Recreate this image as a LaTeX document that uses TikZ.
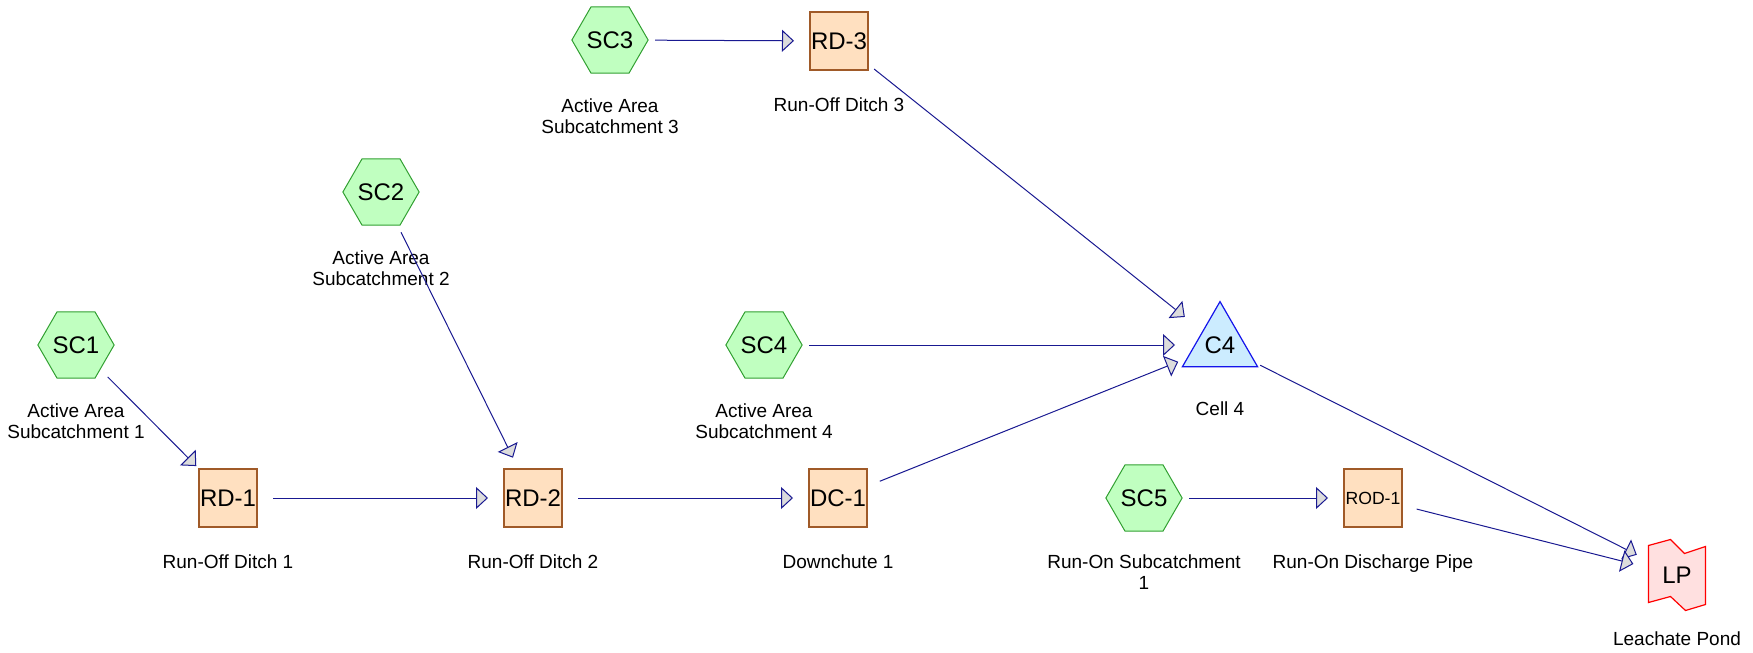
\documentclass[tikz,border=0pt]{standalone}
\usepackage{fontspec}
\setmainfont{Liberation Sans}
\usetikzlibrary{positioning, shapes.geometric, arrows.meta}

\definecolor{subfill}{RGB}{192,255,192}
\definecolor{subedge}{RGB}{50,160,50}
\definecolor{ditchfill}{RGB}{255,224,192}
\definecolor{ditchedge}{RGB}{160,90,40}
\definecolor{cellfill}{RGB}{204,236,255}
\definecolor{celledge}{RGB}{20,20,235}
\definecolor{pondfill}{RGB}{255,224,224}
\definecolor{pondedge}{RGB}{255,0,0}
\definecolor{flowblue}{RGB}{25,25,145}
\definecolor{tipgray}{RGB}{220,220,220}

\begin{document}
\begin{tikzpicture}[
  x=0.5pt, y=-0.5pt,
  catchment/.style={regular polygon, regular polygon sides=6, draw=subedge, fill=subfill, minimum size=38pt, inner sep=0pt, line width=0.5pt, font=\fontsize{12}{14}\selectfont},
  ditch/.style={draw=ditchedge, fill=ditchfill, minimum size=29pt, inner sep=0pt, line width=0.6pt, font=\fontsize{12}{14}\selectfont},
  cell/.style={regular polygon, regular polygon sides=3, draw=celledge, fill=cellfill, minimum size=42pt, inner sep=0pt, line width=0.6pt, font=\fontsize{12}{14}\selectfont},
  pond/.style={inner sep=0pt, font=\fontsize{12}{14}\selectfont},
  tag/.style={font=\fontsize{9.5}{10.8}\selectfont, align=center, inner sep=0pt},
  flow/.style={->, draw=flowblue, line width=0.5pt, shorten <=22.5pt, shorten >=22.5pt},
  >={Triangle[length=6pt, width=11pt, fill=tipgray]}
]
\useasboundingbox (0,0) rectangle (1753,653);

% Subcatchments
\node[catchment] (SC1) at (76,345) {SC1};
\node[catchment] (SC2) at (381,192) {SC2};
\node[catchment] (SC3) at (610,40) {SC3};
\node[catchment] (SC4) at (764,345) {SC4};
\node[catchment] (SC5) at (1144,498) {SC5};

% Ditches, chute and pipe
\node[ditch] (RD1) at (228,498) {RD-1};
\node[ditch] (RD2) at (533,498) {RD-2};
\node[ditch] (RD3) at (839,41) {RD-3};
\node[ditch] (DC1) at (838,498) {DC-1};
\node[ditch, font=\fontsize{8.8}{10}\selectfont] (ROD1) at (1373,498) {ROD-1};

% Cell and pond
\node[cell] (C4) at (1220,345) {C4};
\coordinate (lp) at (1677,575);
\draw[draw=pondedge, fill=pondfill, line width=0.6pt]
  ([shift={(-28.5,-29.5)}]lp) -- ([shift={(-6.5,-35.5)}]lp) -- ([shift={(7.5,-21.5)}]lp)
  -- ([shift={(28.5,-28.5)}]lp) -- ([shift={(28.5,29.5)}]lp) -- ([shift={(8.5,35.5)}]lp)
  -- ([shift={(-6.5,21.5)}]lp) -- ([shift={(-28.5,27.5)}]lp) -- cycle;
\node[pond] (LP) at (lp) {LP};

% Names
\node[tag, below=29pt of SC1.center] (SC1tag) {Active Area\\Subcatchment 1};
\node[tag, below=29pt of SC2.center] (SC2tag) {Active Area\\Subcatchment 2};
\node[tag, below=29pt of SC3.center] (SC3tag) {Active Area\\Subcatchment 3};
\node[tag, below=29pt of SC4.center] (SC4tag) {Active Area\\Subcatchment 4};
\node[tag, below=28pt of SC5.center] (SC5tag) {Run-On Subcatchment\\1};
\node[tag, below=28pt of RD1.center] (RD1tag) {Run-Off Ditch 1};
\node[tag, below=28pt of RD2.center] (RD2tag) {Run-Off Ditch 2};
\node[tag, below=28pt of RD3.center] (RD3tag) {Run-Off Ditch 3};
\node[tag, below=28pt of DC1.center] (DC1tag) {Downchute 1};
\node[tag, below=28pt of ROD1.center] (ROD1tag) {Run-On Discharge Pipe};
\node[tag, below=28pt of C4.center] (C4tag) {Cell 4};
\node[tag, below=28pt of LP.center] (LPtag) {Leachate Pond};

% Flows
\draw[flow] (SC1.center) -- (RD1.center);
\draw[flow] (RD1.center) -- (RD2.center);
\draw[flow] (SC2.center) -- (RD2.center);
\draw[flow] (RD2.center) -- (DC1.center);
\draw[flow] (SC3.center) -- (RD3.center);
\draw[flow] (RD3.center) -- (C4.center);
\draw[flow] (SC4.center) -- (C4.center);
\draw[flow] (DC1.center) -- (C4.center);
\draw[flow] (SC5.center) -- (ROD1.center);
\draw[flow] (C4.center) -- (LP.center);
\draw[flow] (ROD1.center) -- (LP.center);

\end{tikzpicture}
\end{document}
